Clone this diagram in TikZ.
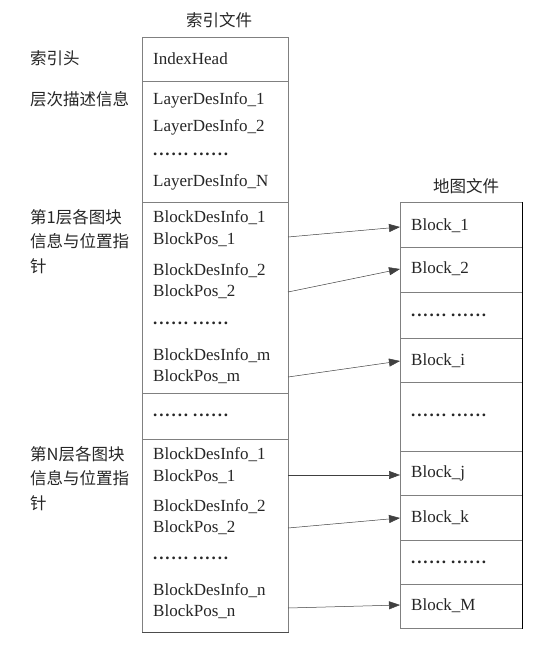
\documentclass[tikz,border=0pt]{standalone}
\usepackage{fontspec}
\setmainfont{Liberation Serif}
\newfontfamily\cjk{Noto Sans CJK SC}
\usetikzlibrary{arrows.meta}
\newcommand\sixdots{.\kern1.9pt.\kern1.9pt.\kern1.9pt.\kern1.9pt.\kern1.9pt.}
\newcommand\dotrow{\sixdots\kern5pt\sixdots}
\begin{document}
\begin{tikzpicture}[x=1pt,y=-1pt,
  cell/.style={draw=black!50,line width=0.8pt,minimum width=#1,inner sep=0pt,anchor=north west},
  txt/.style={font=\fontsize{17}{18}\selectfont,text=black!85,inner sep=0pt,anchor=west},
  dotsnode/.style={font=\bfseries\fontsize{17}{18}\selectfont,text=black!85,inner sep=0pt,anchor=west},
  lab/.style={font=\cjk\fontsize{16.5}{24.5}\selectfont,text=black!85,inner sep=0pt,anchor=north west,align=left},
  ttl/.style={font=\cjk\fontsize{16.5}{18}\selectfont,text=black!85,inner sep=0pt},
  arr/.style={-{Triangle[length=11pt,width=8pt]},line width=0.5pt,draw=black!75}]
\useasboundingbox (0,0) rectangle (540,650);
\fill[white] (0,0) rectangle (540,650);
% index file sections
\node[cell=146pt,minimum height=44pt] (ih) at (142,37) {};
\node[cell=146pt,minimum height=121pt] (ld) at (142,81) {};
\node[cell=146pt,minimum height=191pt] (g1) at (142,202) {};
\node[cell=146pt,minimum height=46pt] (gd) at (142,393) {};
\node[cell=146pt,minimum height=193pt] (gn) at (142,439) {};
\draw[black!70,line width=1pt] (gn.south west) -- (gn.south east);
\node[ttl] (t1) at (219,20) {索引文件};
% index texts
\node[txt] (a0) at (153,59) {IndexHead};
\node[txt] (a1) at (153,100) {LayerDesInfo\_1};
\node[txt] (a2) at (153,127) {LayerDesInfo\_2};
\node[dotsnode] (a3) at (153,154) {\dotrow};
\node[txt] (a4) at (153,182) {LayerDesInfo\_N};
\node[txt] (b1) at (153,218) {BlockDesInfo\_1};
\node[txt] (b1p) at (153,240) {BlockPos\_1};
\node[txt] (b2) at (153,271) {BlockDesInfo\_2};
\node[txt] (b2p) at (153,292) {BlockPos\_2};
\node[dotsnode] (b3) at (153,323) {\dotrow};
\node[txt] (bm) at (153,356) {BlockDesInfo\_m};
\node[txt] (bmp) at (153,377) {BlockPos\_m};
\node[dotsnode] (gdt) at (153,415) {\dotrow};
\node[txt] (c1) at (153,455) {BlockDesInfo\_1};
\node[txt] (c1p) at (153,477) {BlockPos\_1};
\node[txt] (c2) at (153,507) {BlockDesInfo\_2};
\node[txt] (c2p) at (153,528) {BlockPos\_2};
\node[dotsnode] (c3) at (153,558) {\dotrow};
\node[txt] (cn) at (153,591) {BlockDesInfo\_n};
\node[txt] (cnp) at (153,612) {BlockPos\_n};
% left labels
\node[lab] (l0) at (30,50) {索引头};
\node[lab] (l1) at (30,91) {层次描述信息};
\node[lab] (l2) at (30,209) {第1层各图块\\信息与位置指\\针};
\node[lab] (l3) at (30,446) {第N层各图块\\信息与位置指\\针};
% map file
\node[ttl] (t2) at (466,186) {地图文件};
\node[cell=122pt,minimum height=45pt] (m1) at (400,202) {};
\node[cell=122pt,minimum height=45pt] (m2) at (400,247) {};
\node[cell=122pt,minimum height=46pt] (m3) at (400,292) {};
\node[cell=122pt,minimum height=44pt] (mi) at (400,338) {};
\node[cell=122pt,minimum height=69pt] (m4) at (400,382) {};
\node[cell=122pt,minimum height=44pt] (mj) at (400,451) {};
\node[cell=122pt,minimum height=45pt] (mk) at (400,495) {};
\node[cell=122pt,minimum height=44pt] (m5) at (400,540) {};
\node[cell=122pt,minimum height=44pt] (mM) at (400,584) {};
\draw[black,line width=1pt] (m1.north east) -- (mM.south east);
\node[txt] (n1) at (411,226) {Block\_1};
\node[txt] (n2) at (411,269) {Block\_2};
\node[dotsnode] (n3) at (411,315) {\dotrow};
\node[txt] (ni) at (411,361) {Block\_i};
\node[dotsnode] (n4) at (411,415) {\dotrow};
\node[txt] (nj) at (411,473) {Block\_j};
\node[txt] (nk) at (411,518) {Block\_k};
\node[dotsnode] (n5) at (411,562) {\dotrow};
\node[txt] (nM) at (411,606) {Block\_M};
% arrow end points
\coordinate (s1) at (288,237);
\coordinate (s2) at (288,292);
\coordinate (s3) at (288,377);
\coordinate (s4) at (288,475);
\coordinate (s5) at (288,528);
\coordinate (s6) at (288,608);
\coordinate (e1) at (400,227);
\coordinate (e2) at (400,269);
\coordinate (e3) at (400,361);
\coordinate (e4) at (400,475);
\coordinate (e5) at (400,518);
\coordinate (e6) at (400,605);
\draw[arr] (s1) -- (e1);
\draw[arr] (s2) -- (e2);
\draw[arr] (s3) -- (e3);
\draw[arr] (s4) -- (e4);
\draw[arr] (s5) -- (e5);
\draw[arr] (s6) -- (e6);
\end{tikzpicture}
\end{document}
